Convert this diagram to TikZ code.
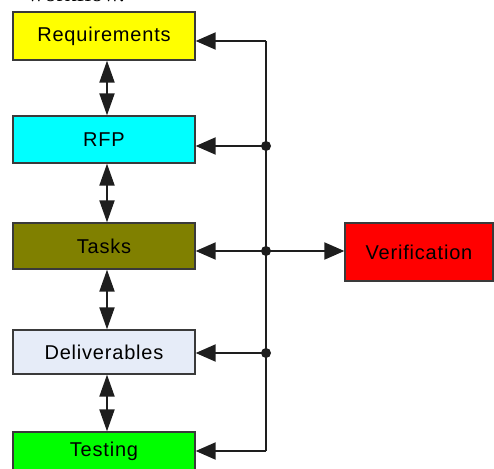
\documentclass[tikz,border=0pt]{standalone}
\usepackage{fontspec}
\setmainfont{Liberation Sans}
\newfontfamily\serifhead{Liberation Serif}
\usetikzlibrary{arrows.meta}
\definecolor{lineg}{HTML}{1E1E1E}
\definecolor{boxborder}{HTML}{3A3A3A}
\definecolor{yelbox}{HTML}{FFFF00}
\definecolor{cyanbox}{HTML}{00FFFF}
\definecolor{olivebox}{HTML}{808000}
\definecolor{delivbox}{HTML}{E6ECF8}
\definecolor{greenbox}{HTML}{00FF00}
\definecolor{redbox}{HTML}{FF0000}
\tikzset{
  stage/.style={draw=boxborder, line width=1.3pt, minimum width=182pt, inner sep=0pt,
    font=\fontsize{20}{24}\selectfont\addfontfeatures{LetterSpace=4}},
  bus/.style={draw=lineg, line width=2pt},
  feed/.style={bus, -{Triangle[length=20pt,width=17pt]}},
  link/.style={bus, {Triangle[length=22pt,width=15pt]}-{Triangle[length=22pt,width=15pt]}},
  junction/.style={circle, fill=lineg, inner sep=0pt, minimum size=10pt},
}
\begin{document}
\begin{tikzpicture}[x=1pt,y=-1pt]
\useasboundingbox (0,0) rectangle (494,468);
\clip (0,0) rectangle (494,468);
\node[font=\serifhead\fontsize{24}{28}\selectfont, anchor=base west, inner sep=0pt] (head) at (27,1.5) {workflow.};
\node[stage, fill=yelbox, minimum height=48pt] (req) at (104,36) {Requirements};
\node[stage, fill=cyanbox, minimum height=47pt] (rfp) at (104,139.5) {RFP};
\node[stage, fill=olivebox, minimum height=46pt] (tasks) at (104,246) {Tasks};
\node[stage, fill=delivbox, minimum height=44pt] (deliv) at (104,352) {Deliverables};
\node[stage, fill=greenbox, minimum height=38pt] (test) at (104,451) {Testing};
\node[stage, fill=redbox, minimum width=148pt, minimum height=58pt] (verif) at (419,252) {Verification};
% vertical links
\draw[link] ([xshift=3pt]req.south) -- ([xshift=3pt]rfp.north);
\draw[link] ([xshift=3pt]rfp.south) -- ([xshift=3pt]tasks.north);
\draw[link] ([xshift=3pt]tasks.south) -- ([xshift=3pt]deliv.north);
\draw[link] ([xshift=3pt]deliv.south) -- ([xshift=3pt]test.north);
% bus
\coordinate (btop) at (266,41);
\coordinate (bbot) at (266,451);
\coordinate (c1) at (266,146);
\coordinate (c2) at (266,251);
\coordinate (c3) at (266,353);
\draw[bus] (btop) -- (bbot);
\draw[feed] (btop) -- (btop -| req.east);
\draw[feed] (c1) -- (c1 -| rfp.east);
\draw[feed] (c2) -- (c2 -| tasks.east);
\draw[feed] (c3) -- (c3 -| deliv.east);
\draw[feed] (bbot) -- (bbot -| test.east);
\draw[feed] (c2) -- (c2 -| verif.west);
\node[junction] (j1) at (c1) {};
\node[junction] (j2) at (c2) {};
\node[junction] (j3) at (c3) {};
\end{tikzpicture}
\end{document}
